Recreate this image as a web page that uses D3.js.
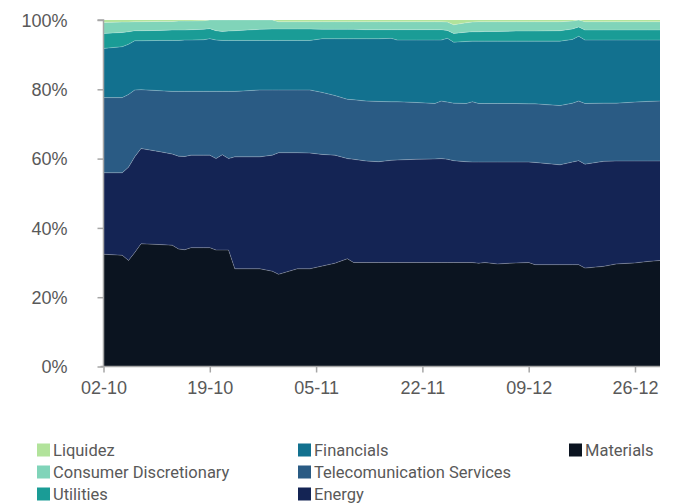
<!DOCTYPE html>
<html>
<head>
<meta charset="utf-8">
<script src="https://cdn.jsdelivr.net/npm/d3@7"></script>
<style>
  html, body { margin: 0; padding: 0; background: #fff; }
  svg { display: block; font-family: Roboto, "Noto Sans", sans-serif; }
</style>
</head>
<body>
<svg id="chart" width="673" height="504"></svg>
<script>
// ---- data (percent of portfolio) ----
const dates = ["2020-10-02","2020-10-05","2020-10-06","2020-10-07","2020-10-08","2020-10-11","2020-10-13","2020-10-14","2020-10-15","2020-10-16","2020-10-18","2020-10-19","2020-10-20","2020-10-21","2020-10-22","2020-10-23","2020-10-27","2020-10-29","2020-10-30","2020-11-02","2020-11-04","2020-11-06","2020-11-08","2020-11-10","2020-11-11","2020-11-13","2020-11-15","2020-11-17","2020-11-18","2020-11-21","2020-11-24","2020-11-25","2020-11-26","2020-11-27","2020-11-29","2020-11-30","2020-12-01","2020-12-02","2020-12-04","2020-12-07","2020-12-09","2020-12-10","2020-12-14","2020-12-16","2020-12-17","2020-12-18","2020-12-21","2020-12-23","2020-12-26","2020-12-28","2020-12-30"];
const materials  = [32.4,32.1,30.6,32.9,35.4,35.2,35.0,33.9,33.7,34.3,34.3,34.3,33.6,33.6,33.6,28.2,28.2,27.5,26.6,28.2,28.2,29.0,29.8,31.1,30.0,30.0,30.0,30.0,30.0,30.0,30.0,30.0,30.0,30.0,30.0,30.0,29.8,30.0,29.6,29.9,30.0,29.4,29.4,29.4,29.4,28.4,28.9,29.6,29.9,30.3,30.6];
const energy     = [23.5,23.8,26.9,27.6,27.5,26.8,26.3,26.8,26.9,26.7,26.7,26.7,26.4,27.5,26.4,32.3,32.3,33.5,35.1,33.5,33.4,32.2,31.2,28.9,29.8,29.3,29.1,29.5,29.6,29.8,29.9,30.0,29.8,29.4,29.1,29.0,29.2,29.0,29.4,29.1,29.0,29.5,28.8,29.6,30.0,30.0,30.3,29.7,29.4,29.0,28.7];
const telecom    = [21.7,21.7,21.0,19.3,17.0,17.6,18.1,18.7,18.8,18.4,18.4,18.4,19.4,18.3,19.4,18.9,19.3,18.8,18.1,18.1,18.2,17.9,17.2,17.1,17.2,17.3,17.4,16.9,16.8,16.4,16.0,16.6,16.5,16.6,16.8,17.4,16.9,16.9,16.9,16.9,16.8,16.9,17.1,17.0,17.2,17.5,16.8,16.7,17.0,17.2,17.3];
const financials = [14.2,14.7,14.5,14.2,14.1,14.5,14.7,14.7,14.8,14.8,14.9,15.2,14.8,14.7,14.7,14.7,14.3,14.3,14.3,14.3,14.3,15.5,16.4,17.5,17.6,18.0,18.1,18.3,17.8,18.0,18.3,17.6,18.4,17.6,17.9,17.5,18.0,18.0,18.0,18.0,18.1,18.1,18.6,18.4,18.7,18.3,18.2,18.2,17.9,17.7,17.6];
const utilities  = [4.3,4.1,3.6,2.9,2.9,2.9,3.0,3.0,2.9,3.0,3.0,2.9,2.7,2.6,2.7,2.8,3.2,3.3,3.3,3.3,3.3,2.7,2.7,2.7,2.7,2.6,2.6,2.5,3.0,3.0,3.0,3.0,2.3,2.5,2.7,2.7,2.7,2.8,2.8,2.9,2.9,2.9,3.0,3.0,2.7,2.9,2.9,2.9,2.9,2.9,2.9];
const consumer   = [3.2,3.0,2.8,2.6,2.6,2.6,2.5,2.6,2.6,2.5,2.5,2.5,3.1,3.3,3.2,3.1,2.7,2.6,2.1,2.1,2.1,2.2,2.2,2.2,2.2,2.3,2.3,2.3,2.3,2.3,2.3,2.3,2.4,2.5,2.7,2.8,2.9,2.8,2.8,2.7,2.7,2.7,2.6,2.3,2.0,2.4,2.4,2.4,2.4,2.4,2.4];
const liquidez   = [0.7,0.6,0.6,0.5,0.5,0.4,0.4,0.3,0.3,0.3,0.2,0.0,0.0,0.0,0.0,0.0,0.0,0.0,0.5,0.5,0.5,0.5,0.5,0.5,0.5,0.5,0.5,0.5,0.5,0.5,0.5,0.5,0.6,1.4,0.8,0.6,0.5,0.5,0.5,0.5,0.5,0.5,0.5,0.3,0.0,0.5,0.5,0.5,0.5,0.5,0.5];
const seriesNames = ["Materials","Energy","Telecomunication Services","Financials","Utilities","Consumer Discretionary","Liquidez"];
const seriesValues = [materials, energy, telecom, financials, utilities, consumer, liquidez];
const seriesColors = ["#0b1420","#142454","#2a5b84","#12718f","#1a9c96","#80d4b9","#b2e39b"];
const xTickDates = ["2020-10-02","2020-10-19","2020-11-05","2020-11-22","2020-12-09","2020-12-26"];
const yTicks = [0, 0.2, 0.4, 0.6, 0.8, 1.0];
const legendOrder = ["Liquidez","Consumer Discretionary","Utilities","Financials","Telecomunication Services","Energy","Materials"];

(function () {
  const parse = d3.utcParse("%Y-%m-%d");
  const rows = dates.map((d, i) => {
    const r = { date: parse(d) };
    seriesNames.forEach((n, k) => r[n] = seriesValues[k][i]);
    return r;
  });

  const svg = d3.select("#chart");
  const mLeft = 103.5, mRight = 660, mTop = 20, mBottom = 366.5;

  const x = d3.scaleUtc()
    .domain([parse(dates[0]), parse(dates[dates.length - 1])])
    .range([mLeft, mRight]);
  const y = d3.scaleLinear().domain([0, 1]).range([mBottom, mTop]);

  const stack = d3.stack().keys(seriesNames).offset(d3.stackOffsetExpand);
  const layers = stack(rows);

  const area = d3.area()
    .x(d => x(d.data.date))
    .y0(d => y(d[0]))
    .y1(d => y(d[1]));
  const topLine = d3.line()
    .x(d => x(d.data.date))
    .y(d => y(d[1]));

  const g = svg.append("g");
  g.selectAll("path.area")
    .data(layers)
    .join("path")
    .attr("class", "area")
    .attr("fill", (d, i) => seriesColors[i])
    .attr("d", area);

  g.selectAll("path.edge")
    .data(layers.slice(0, layers.length - 1))
    .join("path")
    .attr("class", "edge")
    .attr("fill", "none")
    .attr("stroke", "rgba(255,255,255,0.28)")
    .attr("stroke-width", 0.8)
    .attr("d", topLine);

  const axisColor = "#a6a6a6";
  const textColor = "#595959";

  const yAxis = svg.append("g")
    .attr("transform", `translate(${mLeft},0)`)
    .call(d3.axisLeft(y).tickValues(yTicks).tickFormat(d3.format(".0%")).tickSize(6).tickPadding(30));
  yAxis.select(".domain").attr("stroke", axisColor).attr("stroke-width", 1.5).attr("d", `M-6,${mTop}H0V${mBottom}`);
  yAxis.selectAll(".tick line").attr("stroke", axisColor).attr("stroke-width", 1.5);
  yAxis.selectAll(".tick text")
    .attr("fill", textColor)
    .style("font-size", "18px")
    .attr("dy", "0.34em");

  const xAxis = svg.append("g")
    .attr("transform", `translate(0,${mBottom})`)
    .call(d3.axisBottom(x).tickValues(xTickDates.map(parse)).tickFormat(d3.utcFormat("%d-%m")).tickSize(6).tickPadding(9));
  xAxis.select(".domain").attr("stroke", axisColor).attr("stroke-width", 1.5).attr("d", `M${mLeft - 3},0H${mRight}`);
  xAxis.selectAll(".tick line").attr("stroke", axisColor).attr("stroke-width", 1.5);
  xAxis.selectAll(".tick text")
    .attr("fill", textColor)
    .style("font-size", "18px");

  const colX = [37, 298, 569];
  const rowY = [450, 472, 494];
  const legend = svg.append("g");
  legendOrder.forEach((name, i) => {
    const col = Math.floor(i / 3), row = i % 3;
    const color = seriesColors[seriesNames.indexOf(name)];
    const item = legend.append("g").attr("transform", `translate(${colX[col]},${rowY[row]})`);
    item.append("rect").attr("x", 0).attr("y", -6.5).attr("width", 13).attr("height", 13).attr("fill", color);
    item.append("text").attr("x", 16).attr("y", 0).attr("dy", "0.35em")
      .attr("fill", textColor).style("font-size", "16.5px").text(name);
  });
})();
</script>
</body>
</html>
